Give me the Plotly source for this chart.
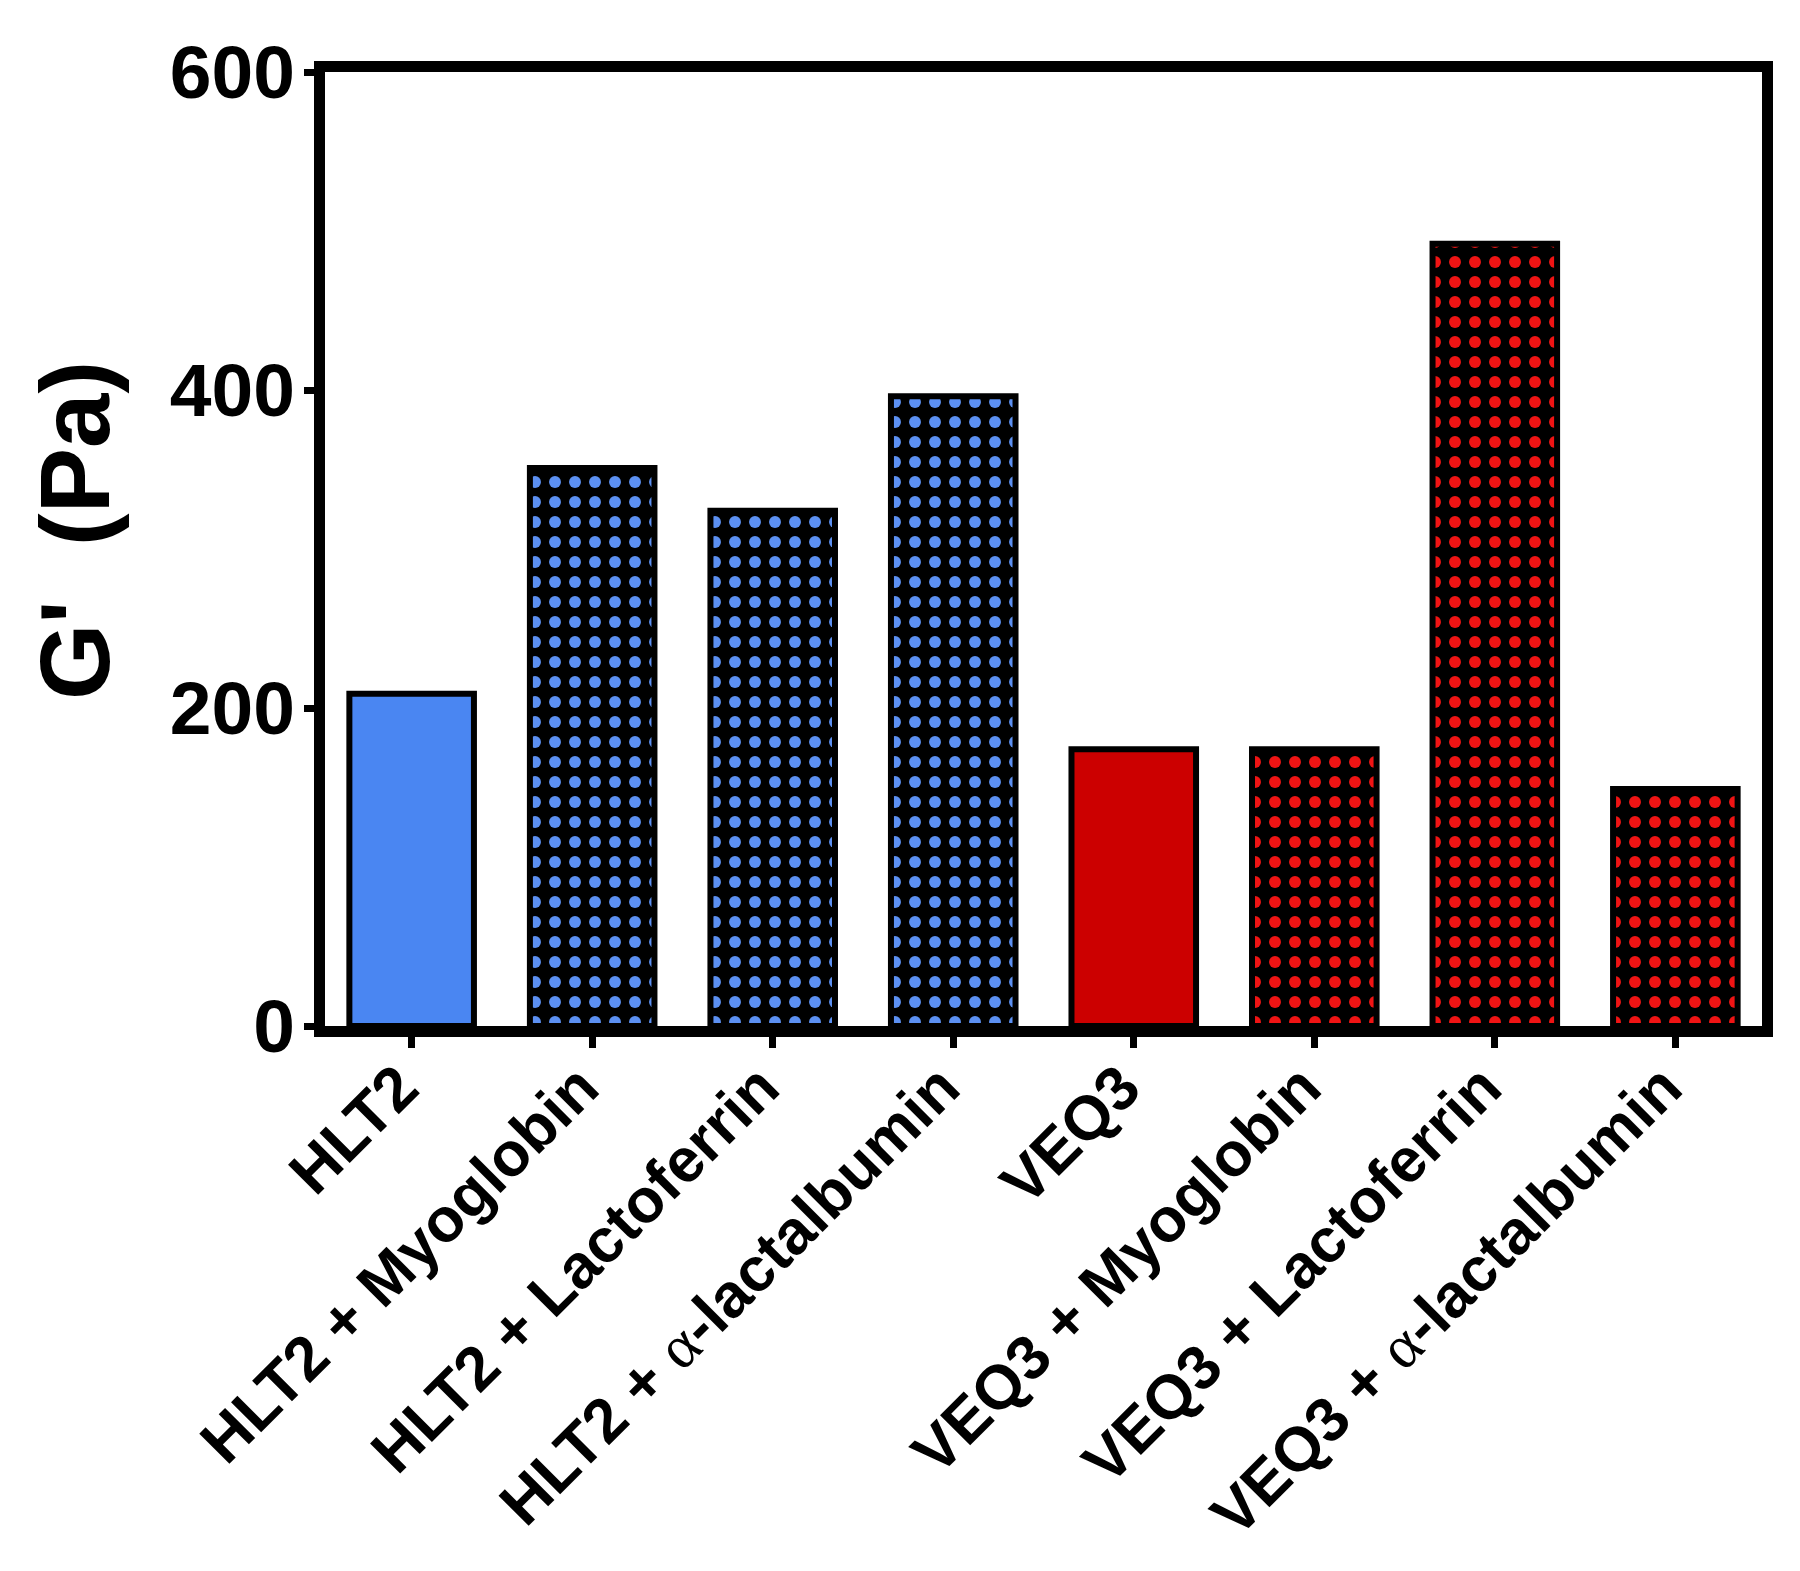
import plotly.graph_objects as go

# data
categories = ['HLT2', 'HLT2 + Myoglobin', 'HLT2 + Lactoferrin', 'HLT2 + a-lactalbumin',
              'VEQ3', 'VEQ3 + Myoglobin', 'VEQ3 + Lactoferrin', 'VEQ3 + a-lactalbumin']
alpha = "<span style='font-family:Liberation Serif;font-weight:normal'>α</span>"
tick_labels = ['HLT2', 'HLT2 + Myoglobin', 'HLT2 + Lactoferrin', f'HLT2 + {alpha}-lactalbumin',
               'VEQ3', 'VEQ3 + Myoglobin', 'VEQ3 + Lactoferrin', f'VEQ3 + {alpha}-lactalbumin']
g_prime = [209, 351, 324, 396, 174, 174, 492, 149]

BLUE = '#4A86F2'
RED = '#CC0000'
bar_colors = [BLUE, 'black', 'black', 'black', RED, 'black', 'black', 'black']
dot_colors = [BLUE, '#5C90F2', '#5C90F2', '#5C90F2', RED, '#F01414', '#F01414', '#F01414']
patterns = ['', '.', '.', '.', '', '.', '.', '.']

FONT = 'Arial, Liberation Sans, sans-serif'

fig = go.Figure()

# one trace per fill style, so each gets its own pattern colours
styles = []
for style in zip(bar_colors, dot_colors, patterns):
    if style not in styles:
        styles.append(style)

for bg, fg, shape in styles:
    idx = [i for i in range(len(categories))
           if (bar_colors[i], dot_colors[i], patterns[i]) == (bg, fg, shape)]
    fig.add_trace(go.Bar(
        x=[categories[i] for i in idx],
        y=[g_prime[i] for i in idx],
        width=0.69,
        marker=dict(
            color=bg,
            line=dict(color='black', width=6),
            pattern=dict(shape=shape, fgcolor=fg, bgcolor=bg,
                         size=20, solidity=0.28, fillmode='replace'),
        ),
        showlegend=False,
    ))

# the page body keeps its 8px margin, so the figure is 16px smaller than the window
fig.update_layout(
    width=1784,
    height=1555,
    barmode='overlay',
    margin=dict(l=317, r=30, t=64, b=537),
    plot_bgcolor='white',
    paper_bgcolor='white',
    font=dict(family=FONT, color='black'),
    xaxis=dict(
        categoryorder='array',
        categoryarray=categories,
        range=[-0.48, 7.48],
        tickmode='array',
        tickvals=categories,
        ticktext=tick_labels,
        tickangle=-45,
        tickfont=dict(size=62, weight='bold'),
        ticklabelstandoff=-22,
        ticklabelshift=-12,
        ticks='outside', ticklen=11, tickwidth=7, tickcolor='black',
        showline=True, linecolor='black', linewidth=11, mirror=True,
        showgrid=False, zeroline=False, automargin=False,
    ),
    yaxis=dict(
        range=[0, 600],
        tickvals=[0, 200, 400, 600],
        tickfont=dict(size=75, weight='bold'),
        ticklabelstandoff=-6,
        ticks='outside', ticklen=10, tickwidth=7, tickcolor='black',
        showline=True, linecolor='black', linewidth=11, mirror=True,
        showgrid=False, zeroline=False, automargin=False,
    ),
    annotations=[dict(
        text="G'  (Pa)", textangle=-90,
        xref='paper', yref='paper', x=-0.174, y=0.52,
        xanchor='center', yanchor='middle', showarrow=False,
        font=dict(size=98, weight='bold', family=FONT),
    )],
)

fig.write_html("out.html")
